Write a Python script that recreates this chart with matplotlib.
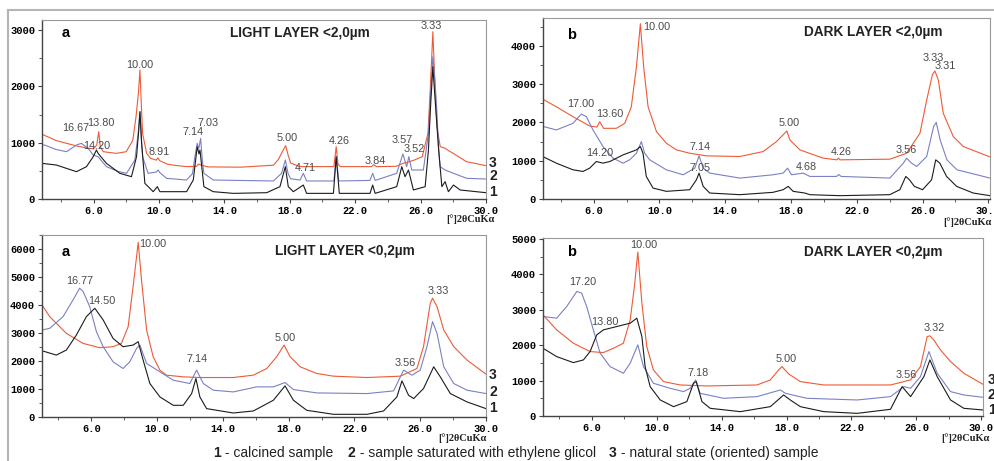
import numpy as np
import matplotlib
matplotlib.use('Agg')
import matplotlib.pyplot as plt
from matplotlib.lines import Line2D
from matplotlib.ticker import MultipleLocator

plt.rcParams['font.family'] = ['Liberation Sans', 'DejaVu Sans']

W, H = 994, 461

# (2theta [deg], counts)
# 1 - calcined, 2 - ethylene glycol, 3 - natural (oriented)
light2_3 = [(2.85, 1150), (3.0, 1130), (3.7, 1040), (4.35, 988), (5.0, 940), (5.6, 905), (6.0, 890),
            (6.2, 960), (6.32, 1195), (6.42, 920), (6.6, 840), (7.4, 810), (8.0, 840), (8.4, 1040),
            (8.6, 1460), (8.75, 1900), (8.84, 2290), (8.92, 1700), (9.0, 1165), (9.25, 810), (9.5, 720),
            (9.85, 690), (9.93, 730), (10.05, 680), (10.5, 620), (10.9, 600), (11.7, 575), (12.3, 580),
            (12.42, 620), (12.6, 600), (13.0, 570), (15.0, 565), (17.0, 600), (17.3, 700), (17.6, 870),
            (17.75, 947), (17.9, 780), (18.05, 640), (18.6, 575), (20.7, 575), (20.84, 929), (20.95, 620),
            (21.1, 575), (23.0, 575), (23.14, 610), (23.3, 575), (24.5, 580), (24.9, 630), (25.0, 640),
            (25.3, 660), (25.6, 690), (26.1, 750), (26.45, 1165), (26.6, 2000), (26.75, 2970), (26.88, 2000),
            (27.0, 1284), (27.2, 930), (27.5, 900), (27.7, 860), (28.0, 810), (28.8, 663), (30.0, 592)]
light2_2 = [(2.85, 960), (3.0, 959), (3.7, 880), (4.35, 840), (4.96, 959), (5.26, 988), (5.67, 900),
            (5.98, 781), (6.28, 751), (6.79, 574), (7.5, 490), (8.02, 456), (8.53, 692), (8.73, 1166),
            (8.84, 1550), (8.92, 1100), (9.0, 751), (9.34, 456), (9.85, 480), (9.95, 515), (10.05, 470),
            (10.47, 367), (11.69, 337), (12.05, 450), (12.2, 751), (12.34, 988), (12.44, 900), (12.55, 1077),
            (12.65, 700), (12.75, 456), (13.32, 337), (17.0, 320), (17.5, 456), (17.73, 692), (17.9, 450),
            (18.05, 360), (18.63, 337), (18.83, 456), (19.03, 320), (20.7, 320), (20.84, 751), (21.0, 320),
            (22.9, 330), (23.07, 456), (23.22, 330), (24.54, 456), (24.92, 799), (25.15, 574), (25.28, 751),
            (25.46, 515), (26.17, 515), (26.48, 1166), (26.62, 1900), (26.75, 2526), (26.88, 2100),
            (26.99, 1580), (27.1, 900), (27.19, 574), (27.5, 515), (28.01, 456), (28.83, 367), (30.0, 355)]
light2_1 = [(2.85, 633), (3.73, 603), (4.96, 485), (5.57, 574), (5.98, 751), (6.18, 870), (6.28, 810),
            (6.79, 633), (7.61, 456), (8.32, 396), (8.63, 751), (8.76, 1200), (8.84, 1550), (8.94, 1000),
            (9.14, 278), (9.65, 130), (9.9, 219), (10.06, 130), (11.69, 130), (12.1, 337), (12.34, 929),
            (12.45, 800), (12.51, 870), (12.75, 219), (13.32, 130), (14.55, 100), (16.59, 112), (17.4, 219),
            (17.73, 574), (17.91, 219), (18.22, 130), (18.83, 248), (19.03, 100), (20.67, 100), (20.84, 751),
            (21.03, 100), (22.91, 100), (23.07, 248), (23.22, 100), (24.54, 219), (24.85, 574), (25.05, 396),
            (25.26, 515), (25.56, 160), (26.28, 219), (26.48, 870), (26.62, 1700), (26.75, 2349),
            (26.89, 1757), (27.09, 929), (27.3, 219), (27.5, 308), (27.7, 130), (28.01, 248), (28.42, 160),
            (30.0, 112)]

dark2_3 = [(2.9, 2600), (3.0, 2586), (3.73, 2412), (4.74, 2152), (5.76, 1909), (6.2, 1880), (6.37, 2022),
           (6.6, 1848), (7.38, 1848), (7.89, 1978), (8.29, 2412), (8.6, 3453), (8.84, 4581), (9.04, 3453),
           (9.31, 2412), (9.82, 1761), (10.42, 1458), (11.03, 1284), (11.84, 1197), (12.86, 1128),
           (14.89, 1111), (16.31, 1241), (17.12, 1501), (17.75, 1780), (17.93, 1544), (18.54, 1284),
           (19.96, 1067), (20.8, 1024), (20.88, 1070), (20.97, 1024), (24.01, 1041), (25.03, 1197),
           (25.84, 1718), (26.25, 2586), (26.6, 3250), (26.75, 3349), (26.96, 3106), (27.26, 2239),
           (27.87, 1631), (28.48, 1371), (30.1, 1100)]
dark2_2 = [(2.9, 1900), (3.73, 1805), (4.74, 1978), (5.25, 2221), (5.56, 2152), (5.96, 1805), (6.57, 1371),
           (7.18, 1067), (7.79, 937), (8.19, 1024), (8.6, 1197), (8.9, 1501), (9.1, 1197), (9.41, 1024),
           (10.42, 764), (11.44, 633), (12.15, 807), (12.41, 1128), (12.66, 807), (13.06, 677), (14.89, 547),
           (16.9, 633), (17.52, 677), (17.79, 807), (18.03, 633), (18.74, 677), (19.15, 590), (20.77, 590),
           (20.9, 640), (21.05, 590), (24.01, 547), (24.83, 937), (25.03, 1067), (25.33, 937), (25.64, 850),
           (26.25, 1110), (26.67, 1892), (26.83, 2004), (27.07, 1544), (27.48, 1024), (28.09, 764),
           (30.1, 547)]
dark2_1 = [(2.9, 1111), (3.73, 937), (4.74, 764), (5.35, 720), (5.76, 807), (6.16, 980), (6.57, 937),
           (6.98, 980), (7.79, 1154), (8.6, 1284), (8.84, 1371), (9.0, 1197), (9.2, 590), (9.61, 286),
           (10.42, 200), (11.84, 243), (12.25, 503), (12.41, 677), (12.66, 330), (13.06, 156), (14.89, 113),
           (16.9, 174), (17.52, 243), (17.83, 330), (18.13, 200), (18.84, 156), (19.15, 113), (20.97, 87),
           (24.0, 113), (24.62, 243), (24.98, 590), (25.2, 503), (25.5, 330), (26.0, 243), (26.55, 503),
           (26.8, 1024), (27.05, 937), (27.46, 590), (28.07, 330), (29.08, 156), (30.1, 87)]

light02_3 = [(3.0, 4003), (3.47, 3585), (4.48, 2988), (5.5, 2629), (6.51, 2474), (7.32, 2510), (7.83, 2629),
             (8.24, 3227), (8.54, 4661), (8.85, 6238), (9.05, 4900), (9.36, 3107), (9.76, 2151), (10.17, 1673),
             (10.57, 1494), (11.59, 1434), (12.6, 1410), (14.63, 1410), (15.85, 1494), (16.67, 1733),
             (17.27, 2151), (17.72, 2569), (18.09, 2151), (18.7, 1793), (19.71, 1554), (20.73, 1458),
             (22.76, 1410), (24.79, 1458), (25.8, 1733), (26.2, 2510), (26.61, 4063), (26.75, 4242),
             (27.02, 3944), (27.43, 3107), (28.04, 2510), (28.85, 2032), (30.0, 1530)]
light02_2 = [(3.0, 3107), (3.47, 3167), (4.28, 3585), (4.89, 4183), (5.29, 4601), (5.5, 4482), (5.9, 3944),
             (6.31, 3047), (6.72, 2510), (7.32, 1972), (7.93, 1733), (8.34, 1972), (8.75, 2450), (8.95, 2569),
             (9.36, 1912), (10.17, 1613), (10.98, 1315), (11.99, 1195), (12.4, 1673), (12.81, 1195),
             (13.42, 956), (14.63, 896), (16.06, 1076), (17.07, 1076), (17.78, 1231), (18.29, 980),
             (19.71, 860), (22.76, 837), (24.38, 932), (24.99, 1673), (25.5, 1494), (26.0, 1673),
             (26.41, 2510), (26.75, 3406), (27.02, 2988), (27.43, 1793), (28.04, 1195), (28.85, 956),
             (30.0, 837)]
light02_1 = [(3.0, 2366), (3.87, 2211), (4.48, 2390), (5.09, 2928), (5.7, 3585), (6.21, 3884), (6.72, 3466),
             (7.32, 2808), (7.93, 2510), (8.54, 2569), (8.85, 2689), (9.15, 2032), (9.56, 1195), (10.17, 717),
             (10.98, 418), (11.59, 418), (12.1, 837), (12.36, 1374), (12.6, 717), (13.01, 299), (14.63, 143),
             (15.85, 215), (17.07, 598), (17.78, 1111), (18.29, 598), (19.1, 239), (20.73, 96), (22.76, 96),
             (23.77, 215), (24.58, 717), (24.89, 1291), (25.29, 777), (25.6, 657), (26.2, 1016),
             (26.82, 1793), (27.22, 1434), (27.83, 837), (28.85, 538), (30.0, 299)]

dark02_3 = [(3.0, 2858), (3.84, 2434), (4.87, 2057), (5.9, 1821), (6.72, 1792), (7.34, 1915), (7.95, 2057),
            (8.37, 2717), (8.63, 3660), (8.84, 4632), (9.09, 3189), (9.39, 1962), (9.8, 1302), (10.42, 972),
            (11.45, 877), (13.1, 849), (16.18, 877), (17.0, 1019), (17.51, 1302), (17.72, 1396), (18.13, 1189),
            (18.85, 972), (20.29, 877), (24.4, 877), (25.64, 1019), (26.25, 1396), (26.66, 2245),
            (26.83, 2264), (27.07, 2151), (27.48, 1868), (28.1, 1538), (28.92, 1208), (30.1, 896)]
dark02_2 = [(3.0, 2811), (3.84, 2764), (4.46, 3094), (5.08, 3519), (5.38, 3472), (5.69, 3094), (6.1, 2434),
            (6.52, 1774), (7.13, 1396), (7.95, 1208), (8.37, 1491), (8.84, 2009), (9.19, 1396), (9.8, 925),
            (10.83, 783), (11.66, 689), (12.07, 783), (12.4, 1019), (12.68, 641), (14.12, 500), (16.18, 547),
            (17.62, 736), (17.93, 641), (19.26, 500), (22.35, 453), (24.4, 547), (25.22, 830), (25.64, 783),
            (26.25, 1113), (26.77, 1821), (27.28, 1208), (28.1, 689), (28.92, 594), (30.1, 528)]
dark02_1 = [(3.0, 1915), (3.84, 1679), (4.87, 1509), (5.49, 1585), (5.9, 1821), (6.31, 2292), (6.72, 2434),
            (7.54, 2528), (8.37, 2623), (8.78, 2764), (9.09, 2245), (9.29, 1396), (9.6, 830), (10.22, 453),
            (11.04, 264), (11.86, 406), (12.27, 925), (12.44, 972), (12.79, 406), (13.3, 217), (15.15, 123),
            (17.0, 264), (17.82, 594), (18.23, 453), (18.85, 264), (20.29, 123), (22.35, 75), (24.4, 189),
            (25.12, 830), (25.64, 547), (26.46, 1113), (26.83, 1585), (27.28, 1113), (28.1, 453),
            (28.92, 217), (30.1, 170)]

# d-spacing labels: (text, 2theta, counts)
light2_peaks = [('16.67', 4.92, 1266), ('13.80', 6.43, 1343), ('14.20', 6.22, 947), ('10.00', 8.83, 2379),
                ('8.91', 10.02, 828), ('7.14', 12.06, 1183), ('7.03', 13.0, 1355), ('5.00', 17.85, 1089),
                ('4.71', 18.93, 544), ('4.26', 21.0, 1035), ('3.84', 23.2, 675), ('3.57', 24.85, 1047),
                ('3.52', 25.62, 888), ('3.33', 26.68, 3071)]
dark2_peaks = [('10.00', 9.82, 4495), ('17.00', 5.19, 2473), ('13.60', 6.98, 2213), ('14.20', 6.37, 1197),
               ('7.14', 12.49, 1371), ('7.05', 12.49, 807), ('5.00', 17.89, 1996), ('4.26', 21.07, 1223),
               ('4.68', 18.94, 833), ('3.56', 25.03, 1284), ('3.33', 26.65, 3696), ('3.31', 27.36, 3471)]
light02_peaks = [('10.00', 9.76, 6190), ('16.77', 5.29, 4864), ('14.50', 6.61, 4159), ('7.14', 12.4, 2067),
                 ('5.00', 17.78, 2832), ('3.56', 25.09, 1936), ('3.33', 27.12, 4505)]
dark02_peaks = [('10.00', 9.23, 4840), ('17.20', 5.45, 3783), ('13.80', 6.82, 2651), ('7.18', 12.58, 1226),
                ('5.00', 17.99, 1604), ('3.56', 25.39, 1160), ('3.32', 27.07, 2481)]

colors = {3: '#ee5a35', 2: '#7a80c4', 1: '#1c1c1c'}
mono = dict(family='Liberation Mono', weight='bold', fontsize=7.5)
narrow = ['Liberation Sans Narrow', 'Liberation Sans', 'DejaVu Sans']


def fx(x):
    return x / W


def fy(y):
    return 1 - y / H


fig = plt.figure(figsize=(W / 100, H / 100), dpi=100)


def panel(box, curves, peaks, xlim, ylim, ymax_tick, letter, title, letter_pos, title_pos):
    l, t, r, b = box
    ax = fig.add_axes([fx(l), fy(b), (r - l) / W, (b - t) / H])
    for n in (3, 2, 1):
        tt, cnt = np.array(curves[n]).T
        ax.plot(tt, cnt, color=colors[n], lw=0.8)
    for txt, x, y in peaks:
        ax.text(x, y, txt, family=narrow, fontsize=7.8, color='#4a4a4a', ha='center', va='center')
    ax.set_xlim(*xlim)
    ax.set_ylim(*ylim)
    xt = np.arange(6, 31, 4)
    ax.set_xticks(xt, [f'{v:.1f}' for v in xt], **mono)
    yt = np.arange(0, ymax_tick + 1, 1000)
    ax.set_yticks(yt, [str(v) for v in yt], **mono)
    ax.xaxis.set_minor_locator(MultipleLocator(2))
    ax.yaxis.set_minor_locator(MultipleLocator(500))
    ax.tick_params(which='major', length=3, width=0.8, pad=2, color='#444')
    ax.tick_params(which='minor', length=2, width=0.6, color='#444')
    for s in ('left', 'bottom'):
        ax.spines[s].set_color('#444')
        ax.spines[s].set_linewidth(1.0)
    for s in ('top', 'right'):
        ax.spines[s].set_color('#999')
        ax.spines[s].set_linewidth(0.8)
    fig.text(fx(letter_pos[0]), fy(letter_pos[1]), letter, fontsize=10.5, weight='bold',
             ha='center', va='center')
    fig.text(fx(title_pos[0]), fy(title_pos[1]), title, fontsize=9.8, weight='bold',
             ha='center', va='center', color='#222')
    return ax


panel((42, 20, 486, 199), {1: light2_1, 2: light2_2, 3: light2_3}, light2_peaks,
      (2.85, 30.0), (0, 3178), 3000, 'a', 'LIGHT LAYER <2,0µm', (66, 33), (300, 33))
panel((543, 18, 990, 199), {1: dark2_1, 2: dark2_2, 3: dark2_3}, dark2_peaks,
      (2.92, 30.1), (0, 4732), 4000, 'b', 'DARK LAYER <2,0µm', (572, 35), (873, 32))
panel((42, 235, 486, 417), {1: light02_1, 2: light02_2, 3: light02_3}, light02_peaks,
      (3.0, 30.0), (0, 6500), 6000, 'a', 'LIGHT LAYER <0,2µm', (66, 252), (345, 251))
panel((543, 238, 983, 416), {1: dark02_1, 2: dark02_2, 3: dark02_3}, dark02_peaks,
      (3.0, 30.1), (0, 5030), 5000, 'b', 'DARK LAYER <0,2µm', (572, 252), (873, 252))

# curve numbers to the right of the panels
for x, ys in ((489, (163, 176, 192)), (489, (375, 392, 408)), (988, (380, 395, 410))):
    for num, y in zip(('3', '2', '1'), ys):
        fig.text(fx(x), fy(y), num, fontsize=10, weight='bold', ha='left', va='center', color='#222')

# axis unit labels
for x, y in ((470, 219), (967, 222), (462, 438), (965, 438)):
    fig.text(fx(x), fy(y), '[°]2θCuKα', family=['Liberation Serif', 'DejaVu Serif'],
             weight='bold', fontsize=7.5, ha='center', va='center', color='#222')

# legend line at the bottom
items = [('1', ' - calcined sample', 213), ('2', ' - sample saturated with ethylene glicol', 348),
         ('3', ' - natural state (oriented) sample', 609)]
for num, desc, x in items:
    t = fig.text(fx(x), fy(453), num, fontsize=10, weight='bold', ha='left', va='center', color='#222')
    fig.add_artist(plt.Annotation(desc, xy=(1, 0), xycoords=t, fontsize=10,
                                  ha='left', va='bottom', color='#222'))

# outer frame
fig.add_artist(Line2D([fx(8), 1], [fy(10), fy(10)], color='#b5b5b5', lw=1.5))
fig.add_artist(Line2D([fx(8), fx(8)], [fy(10), 0], color='#b5b5b5', lw=1.5))

fig.savefig('out.png', dpi=100)
